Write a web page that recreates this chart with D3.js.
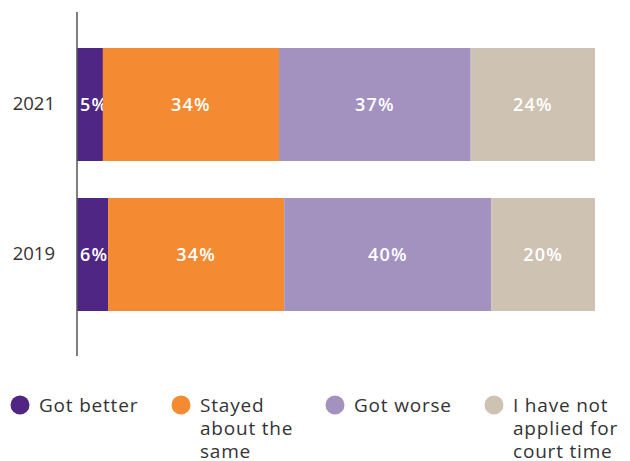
<!DOCTYPE html>
<html>
<head>
<meta charset="utf-8">
<script src="https://cdn.jsdelivr.net/npm/d3@7/dist/d3.min.js"></script>
<style>
  html, body { margin: 0; padding: 0; background: #fff; }
  svg { display: block; font-family: "Open Sans", "Noto Sans", sans-serif; }
</style>
</head>
<body>
<svg id="chart" width="630" height="461"></svg>
<script>
// Survey responses by year (percent of respondents)
const years = ["2021", "2019"];
const categories = ["Got better", "Stayed about the same", "Got worse", "I have not applied for court time"];
const gotBetter = [5, 6];
const stayedSame = [34, 34];
const gotWorse = [37, 40];
const notApplied = [24, 20];
const legendLines = [["Got better"], ["Stayed", "about the", "same"], ["Got worse"], ["I have not", "applied for", "court time"]];
const colors = ["#4f2683", "#f48a32", "#a391c0", "#cec2b3"];

const seriesValues = [gotBetter, stayedSame, gotWorse, notApplied];
const rows = years.map((yr, i) => {
  const r = { year: yr };
  categories.forEach((c, k) => { r[c] = seriesValues[k][i]; });
  return r;
});

const svg = d3.select("#chart");

const x = d3.scaleLinear().domain([0, 100]).range([77, 595]);
const y = d3.scaleBand().domain(years).range([48, 311]).paddingInner(0.2467).paddingOuter(0);
const color = d3.scaleOrdinal().domain(categories).range(colors);

const stacked = d3.stack().keys(categories)(rows);

const layer = svg.append("g").selectAll("g")
  .data(stacked).join("g")
  .attr("fill", d => color(d.key));

layer.selectAll("rect")
  .data(d => d)
  .join("rect")
  .attr("x", d => x(d[0]))
  .attr("y", d => y(d.data.year))
  .attr("width", d => x(d[1]) - x(d[0]))
  .attr("height", y.bandwidth());

// Value labels inside segments
layer.selectAll("text")
  .data(d => d)
  .join("text")
  .attr("x", d => {
    const w = x(d[1]) - x(d[0]);
    return w < 40 ? x(d[0]) + 3 : (x(d[0]) + x(d[1])) / 2;
  })
  .attr("text-anchor", d => (x(d[1]) - x(d[0]) < 40 ? "start" : "middle"))
  .attr("y", d => y(d.data.year) + y.bandwidth() / 2)
  .attr("dy", "0.36em")
  .attr("fill", "#fff")
  .attr("font-size", 18)
  .attr("font-weight", 600)
  .attr("letter-spacing", 1.2)
  .text(d => (d[1] - d[0]) + "%");

// Category axis
const axis = svg.append("g")
  .attr("transform", "translate(77,0)")
  .call(d3.axisLeft(y).tickSize(0).tickPadding(22));
axis.select(".domain").remove();
axis.selectAll("text")
  .attr("font-family", "'Open Sans', 'Noto Sans', sans-serif")
  .attr("font-size", 18.5)
  .attr("fill", "#333");

svg.append("line")
  .attr("x1", 77).attr("x2", 77)
  .attr("y1", 12).attr("y2", 356)
  .attr("stroke", "#555")
  .attr("stroke-width", 1.5);

// Legend
const legendX = [20, 181, 335, 494];
const legend = svg.append("g").selectAll("g")
  .data(categories).join("g")
  .attr("transform", (d, i) => `translate(${legendX[i]},405)`);

legend.append("circle")
  .attr("r", 9.5)
  .attr("fill", d => color(d));

legend.append("text")
  .attr("x", 19)
  .attr("y", 0)
  .attr("font-size", 19)
  .attr("letter-spacing", 0.8)
  .attr("fill", "#333")
  .selectAll("tspan")
  .data((d, i) => legendLines[i])
  .join("tspan")
  .attr("x", 19)
  .attr("dy", (d, j) => (j === 0 ? "0.35em" : 23))
  .text(d => d);
</script>
</body>
</html>
